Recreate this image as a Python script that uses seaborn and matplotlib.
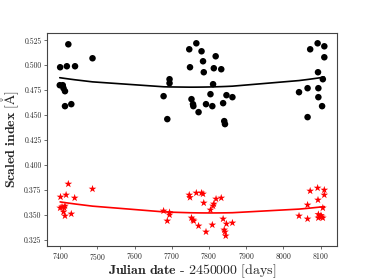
import numpy as np
import pandas as pd
import matplotlib
matplotlib.use('Agg')
import matplotlib.pyplot as plt
import seaborn as sns

# black index (upper group)
jd_black = [7399, 7400, 7407, 7409, 7413, 7413, 7418, 7422, 7430, 7440, 7487,
            7678, 7688, 7694, 7694, 7747, 7749, 7753, 7757, 7758, 7766, 7772,
            7780, 7784, 7786, 7792, 7804, 7809, 7811, 7813, 7818, 7833, 7838,
            7841, 7843, 7847, 7863, 8042, 8065, 8065, 8072, 8092, 8093, 8094,
            8094, 8104, 8106, 8110, 8110]
idx_black = [0.480, 0.498, 0.480, 0.477, 0.474, 0.459, 0.499, 0.521, 0.461, 0.499, 0.507,
             0.469, 0.446, 0.486, 0.482, 0.516, 0.498, 0.466, 0.461, 0.459, 0.522, 0.453,
             0.514, 0.504, 0.493, 0.461, 0.471, 0.459, 0.481, 0.497, 0.509, 0.496, 0.462,
             0.444, 0.441, 0.470, 0.468, 0.473, 0.477, 0.448, 0.516, 0.522, 0.493, 0.477,
             0.468, 0.459, 0.486, 0.519, 0.508]

# red index (lower group)
jd_red = [7400, 7401, 7405, 7409, 7411, 7413, 7413, 7416, 7422, 7430, 7439, 7487,
          7678, 7688, 7694, 7694, 7747, 7749, 7753, 7757, 7759, 7766, 7772, 7780,
          7784, 7786, 7792, 7804, 7809, 7811, 7813, 7819, 7833, 7838, 7841, 7843,
          7845, 7847, 7863, 8042, 8065, 8065, 8072, 8092, 8093, 8094, 8094, 8101,
          8103, 8106, 8106, 8110, 8110]
idx_red = [0.357, 0.368, 0.358, 0.353, 0.357, 0.359, 0.349, 0.370, 0.381, 0.351, 0.367, 0.376,
           0.354, 0.344, 0.3525, 0.350, 0.370, 0.3675, 0.347, 0.345, 0.344, 0.372, 0.339, 0.372,
           0.371, 0.362, 0.333, 0.355, 0.340, 0.359, 0.361, 0.366, 0.367, 0.346, 0.335, 0.333,
           0.329, 0.341, 0.342, 0.349, 0.360, 0.346, 0.374, 0.377, 0.365, 0.3505, 0.347, 0.3495,
           0.348, 0.357, 0.347, 0.375, 0.370]

df_b = pd.DataFrame({'jd': jd_black, 'idx': idx_black})
df_r = pd.DataFrame({'jd': jd_red, 'idx': idx_red})

sns.set_style('ticks')
plt.rcParams['font.family'] = ['cmr10', 'DejaVu Serif']
plt.rcParams['mathtext.fontset'] = 'cm'
plt.rcParams['axes.formatter.use_mathtext'] = True

fig = plt.figure(figsize=(3.74, 2.8), dpi=100)
ax = fig.add_axes([0.126, 0.122, 0.774, 0.759])

sns.scatterplot(data=df_b, x='jd', y='idx', color='black', s=22,
                edgecolor='none', ax=ax, legend=False)
sns.scatterplot(data=df_r, x='jd', y='idx', color='red', marker='*', s=34,
                edgecolor='none', ax=ax, legend=False)

# quadratic trends
for df, c in [(df_b, 'black'), (df_r, 'red')]:
    xs = np.sort(df['jd'].values)
    p = np.polyfit(df['jd'], df['idx'], 2)
    ax.plot(xs, np.polyval(p, xs), color=c, lw=1.2)

ax.set_xlim(7365, 8143)
ax.set_ylim(0.319, 0.532)
ax.set_xticks([7400, 7500, 7600, 7700, 7800, 7900, 8000, 8100])
ax.set_yticks([0.325, 0.350, 0.375, 0.400, 0.425, 0.450, 0.475, 0.500, 0.525])
ax.set_yticklabels(['0.325', '0.350', '0.375', '0.400', '0.425', '0.450',
                    '0.475', '0.500', '0.525'])
ax.tick_params(labelsize=5.5, length=2.5, width=0.6, color='#555555', pad=1.5)
for s in ax.spines.values():
    s.set_linewidth(0.8)
    s.set_color('#444444')

ax.set_xlabel(r'$\mathbf{Julian\ date\ \text{-}\ 2450000}\ [\mathrm{days}]$', fontsize=10, labelpad=0)
ax.set_ylabel(r'$\mathbf{Scaled\ index}\ [\mathrm{\AA}]$', fontsize=10, labelpad=2)

fig.savefig('out.png', dpi=100)
